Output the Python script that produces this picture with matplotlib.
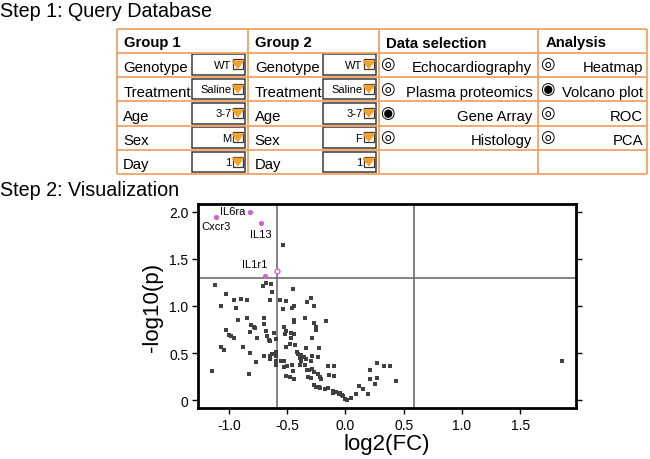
import numpy as np
import matplotlib
matplotlib.use("Agg")
import matplotlib.pyplot as plt
from matplotlib.patches import Rectangle, Polygon

plt.rcParams['font.family'] = ['Liberation Sans', 'DejaVu Sans']
plt.rcParams['axes.unicode_minus'] = False

# ---- Step 1 data (query form) ----
group_fields = ['Genotype', 'Treatment', 'Age', 'Sex', 'Day']
group1_values = ['WT', 'Saline', '3-7', 'M', '1']
group2_values = ['WT', 'Saline', '3-7', 'F', '1']
data_options = ['Echocardiography', 'Plasma proteomics', 'Gene Array', 'Histology']
data_selected = 'Gene Array'
analysis_options = ['Heatmap', 'Volcano plot', 'ROC', 'PCA']
analysis_selected = 'Volcano plot'

# ---- Step 2 data (volcano plot) ----
log2fc = np.array([
    -1.12, -1.03, -0.71, -0.68, -0.64, -0.63, -0.90, -0.96, -0.85, -0.65,
    -1.07, -0.94, -0.92, -0.85, -0.70, -0.70, -0.81, -0.79, -0.78, -1.03,
    -0.82, -0.68, -0.61, -1.00, -0.98, -0.96, -0.76, -0.67, -0.66, -0.60,
    -0.65, -1.07, -1.04, -0.88, -0.82, -0.60, -0.63, -0.70, -0.65, -0.65,
    -0.60, -0.77, -0.60, -1.15, -0.83, -0.60,
    -0.54, -0.45, -0.56, -0.51, -0.54, -0.46, -0.44, -0.33, -0.30, -0.27,
    -0.44, -0.44, -0.35, -0.27, -0.25, -0.25, -0.17, -0.53, -0.51, -0.52,
    -0.47, -0.44, -0.47, -0.29, -0.48, -0.43, -0.51, -0.34, -0.23, -0.42,
    -0.41, -0.38, -0.39, -0.36, -0.34, -0.29, -0.30, -0.24, -0.55, -0.53,
    -0.50, -0.53, -0.46, -0.45, -0.38, -0.39, -0.35, -0.33, -0.31, -0.29,
    -0.27, -0.24, -0.22, -0.21, -0.15, -0.10, -0.14, -0.10, -0.51, -0.48,
    -0.44, -0.32, -0.30, -0.27, -0.25, -0.23, -0.22, -0.18, -0.15, -0.11,
    -0.11, -0.08, -0.06, -0.05, -0.03, -0.02, 0.00, 0.01, 0.05, 0.09,
    0.27, 0.21, 0.33, 0.38, 0.21, 0.27, 0.25, 0.43, 0.12, 0.15,
    0.19, 1.86,
])
neglog10p = np.array([
    1.22, 1.13, 1.21, 1.24, 1.23, 1.15, 1.07, 1.06, 1.06, 1.06,
    1.00, 0.98, 0.85, 0.87, 0.87, 0.81, 0.80, 0.78, 0.77, 0.75,
    0.72, 0.73, 0.71, 0.69, 0.68, 0.66, 0.66, 0.68, 0.64, 0.65,
    0.63, 0.56, 0.53, 0.56, 0.50, 0.51, 0.49, 0.47, 0.47, 0.44,
    0.47, 0.40, 0.37, 0.31, 0.28, 0.42,
    1.65, 1.18, 1.06, 1.05, 0.97, 0.98, 1.00, 1.04, 1.08, 1.00,
    0.85, 0.83, 0.87, 0.82, 0.78, 0.74, 0.84, 0.78, 0.73, 0.70,
    0.71, 0.70, 0.66, 0.66, 0.60, 0.59, 0.56, 0.55, 0.55, 0.51,
    0.49, 0.48, 0.45, 0.46, 0.44, 0.47, 0.42, 0.46, 0.42, 0.42,
    0.36, 0.35, 0.37, 0.31, 0.41, 0.37, 0.37, 0.32, 0.32, 0.33,
    0.30, 0.28, 0.25, 0.22, 0.36, 0.36, 0.27, 0.26, 0.26, 0.24,
    0.22, 0.25, 0.23, 0.16, 0.14, 0.14, 0.13, 0.12, 0.13, 0.10,
    0.07, 0.08, 0.06, 0.07, 0.05, 0.04, 0.01, 0.00, 0.02, 0.06,
    0.39, 0.32, 0.36, 0.36, 0.22, 0.23, 0.17, 0.20, 0.15, 0.12,
    0.06, 0.42,
])
hit_names = ['Cxcr3', 'IL6ra', 'IL13', 'IL1r1', '']
hit_log2fc = [-1.11, -0.82, -0.73, -0.59, -0.69]
hit_neglog10p = [1.95, 2.00, 1.88, 1.37, 1.32]
fc_cut = np.log2(1.5)
p_cut = -np.log10(0.05)

orange = '#F2A262'
box_edge = '#3a3a3a'

fig = plt.figure(figsize=(6.5, 4.6), dpi=100)

# background axes in pixel coordinates for the form
bg = fig.add_axes([0, 0, 1, 1])
bg.set_xlim(0, 650)
bg.set_ylim(460, 0)
bg.axis('off')

bg.text(0, 17, 'Step 1: Query Database', fontsize=14.2, va='baseline')
bg.text(0, 196, 'Step 2: Visualization', fontsize=14.2, va='baseline')

col_x = [116.7, 248.3, 379.3, 538.3, 647]
row_y = [30, 53.8, 78.1, 102.4, 126.7, 151, 175]
for x in col_x:
    bg.plot([x, x], [row_y[0], row_y[-1]], color=orange, lw=1.3, solid_capstyle='butt')
for y in row_y:
    bg.plot([col_x[0], col_x[-1]], [y, y], color=orange, lw=1.3, solid_capstyle='butt')

headers = ['Group 1', 'Group 2', 'Data selection', 'Analysis']
for i, h in enumerate(headers):
    bg.text(col_x[i] + 7, row_y[0] + 17.5, h, fontsize=10.7, fontweight='bold', va='baseline')


def dropdown(x0, x1, top, bottom, value):
    bg.add_patch(Rectangle((x0, top), x1 - x0, bottom - top, fill=False,
                           edgecolor=box_edge, lw=1.1))
    # icon
    ix0, ix1 = x1 - 12, x1 - 2
    iy0, iy1 = top + 5, top + 15
    bg.add_patch(Rectangle((ix0, iy0), ix1 - ix0, iy1 - iy0, fill=False,
                           edgecolor=box_edge, lw=0.9))
    bg.add_patch(Polygon([[ix0 - 1, iy0 + 1.5], [ix1 + 1, iy0 + 1.5],
                          [(ix0 + ix1) / 2, iy1 - 0.5]],
                         closed=True, facecolor='#F5A028', edgecolor='#F5A028', lw=0.5))
    bg.text(ix0 - 1.5, (top + bottom) / 2 + 3, value, fontsize=8, ha='right', va='baseline')


for r, field in enumerate(group_fields):
    top, bottom = row_y[r + 1], row_y[r + 2]
    for g, vals in enumerate([group1_values, group2_values]):
        bg.text(col_x[g] + 6.5, top + 18.5, field, fontsize=10.7, va='baseline')
        dropdown(col_x[g] + 75, col_x[g + 1] - 3.5, top + 1.5, bottom - 2, vals[r])

for r, opt in enumerate(data_options):
    top = row_y[r + 1]
    sym = '\u25c9' if opt == data_selected else '\u25ce'
    bg.text(col_x[2] + 8.5, top + 10.5, sym, fontsize=12, ha='center', va='center',
            family='DejaVu Sans')
    bg.text(col_x[3] - 6, top + 18.5, opt, fontsize=10.7, ha='right', va='baseline')

for r, opt in enumerate(analysis_options):
    top = row_y[r + 1]
    sym = '\u25c9' if opt == analysis_selected else '\u25ce'
    bg.text(col_x[3] + 9.5, top + 10.5, sym, fontsize=12, ha='center', va='center',
            family='DejaVu Sans')
    bg.text(col_x[4] - 4, top + 18.5, opt, fontsize=10.7, ha='right', va='baseline')

# ---- volcano plot ----
ax = fig.add_axes([198 / 650, 1 - 409 / 460, 378 / 650, 204 / 460])
ax.plot(log2fc, neglog10p, 's', ms=2.2, color='#404040', mew=0)
ax.axvline(-fc_cut, color='#6e6e6e', lw=1.2, zorder=1)
ax.axvline(fc_cut, color='#6e6e6e', lw=1.2, zorder=1)
ax.axhline(p_cut, color='#6e6e6e', lw=1.2, zorder=1)

magenta = '#CC66CC'
for i in range(len(hit_names)):
    if hit_names[i] == 'IL1r1':
        ax.plot(hit_log2fc[i], hit_neglog10p[i], 'o', ms=3.5, mfc='white', mec=magenta, mew=1, zorder=3)
    else:
        ax.plot(hit_log2fc[i], hit_neglog10p[i], 'o', ms=3.8, color=magenta, mew=0, zorder=3)

label_offsets = {'Cxcr3': (-0.5, -6.6), 'IL6ra': (-12.6, 1), 'IL13': (0, -7.7), 'IL1r1': (-15.8, 5)}
for name, x, y in zip(hit_names, hit_log2fc, hit_neglog10p):
    if name:
        ax.annotate(name, (x, y), xytext=label_offsets[name], textcoords='offset points',
                    fontsize=8, ha='center', va='center')

ax.set_xlim(-1.267, 1.98)
ax.set_ylim(-0.085, 2.085)
ax.set_xticks([-1.0, -0.5, 0.0, 0.5, 1.0, 1.5])
ax.set_xticklabels(['-1.0', '-0.5', '0.0', '0.5', '1.0', '1.5'])
ax.set_yticks([0, 0.5, 1.0, 1.5, 2.0])
ax.set_yticklabels(['0', '0.5', '1.0', '1.5', '2.0'])
ax.tick_params(direction='out', length=4, width=1, labelsize=10, right=True, pad=3)
for s in ax.spines.values():
    s.set_linewidth(2)
ax.set_xlabel('log2(FC)', fontsize=16, labelpad=1)
ax.set_ylabel('-log10(p)', fontsize=16, labelpad=4)

fig.savefig('out.png', dpi=100)
